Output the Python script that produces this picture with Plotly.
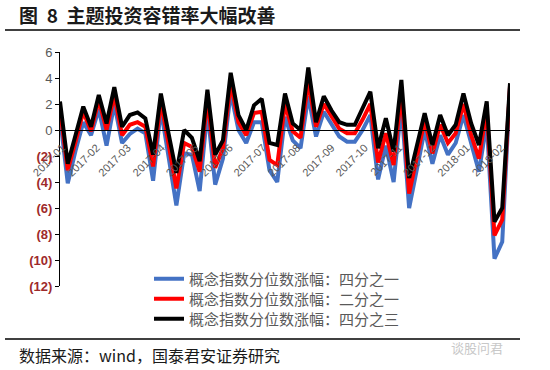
import plotly.graph_objects as go
import pandas as pd

# weekly observation dates (first week of Jan 2017 to early Feb 2018)
dates = pd.date_range("2016-12-30", periods=59, freq="7D").strftime("%Y-%m-%d").tolist()

# 概念指数分位数涨幅 (%)
q1 = [1.0, -4.1, -1.6, 0.6, -0.4, 1.6, -1.2, 2.0, -1.0, -0.3,
      0.1, -0.25, -3.9, 1.6, -2.1, -5.8, -1.8, -1.9, -4.7, 1.5,
      -4.2, -2.2, 2.9, 0.0, -1.0, 0.6, 0.6, -3.1, -4.0, 1.0,
      -0.8, -1.4, 2.6, -0.5, 1.4, 0.5, -0.5, -0.9, -0.9, 0.0,
      1.15, -3.8, -1.2, -4.0, 1.9, -6.0, -3.0, 0.0, -2.6, -0.4,
      -1.9, -1.0, 1.15, -1.15, -3.2, 0.6, -9.9, -8.6, 3.3]
q2 = [1.6, -3.1, -0.9, 1.4, -0.1, 2.3, 0.0, 2.7, -0.4, 0.4,
      0.6, 0.25, -2.8, 2.2, -1.1, -4.5, -1.0, -1.3, -3.2, 2.4,
      -2.9, -1.4, 3.6, 0.6, -0.4, 1.3, 1.4, -2.3, -2.7, 2.0,
      -0.1, -0.6, 3.7, 0.25, 2.0, 1.0, 0.1, -0.25, -0.25, 0.8,
      2.0, -2.5, -0.25, -2.7, 2.9, -4.9, -1.9, 0.75, -1.8, 0.4,
      -1.0, -0.25, 2.0, -0.4, -2.2, 1.6, -8.1, -6.9, 3.4]
q3 = [2.2, -2.6, -0.4, 1.8, 0.25, 2.7, 0.5, 3.3, 0.25, 1.15,
      1.35, 0.9, -1.9, 2.8, -0.3, -3.3, 0.0, -0.6, -2.4, 3.1,
      -1.9, -0.8, 4.4, 1.15, 0.0, 1.9, 2.4, -1.0, -1.15, 2.8,
      0.5, 0.0, 4.8, 0.6, 2.6, 1.5, 0.6, 0.4, 0.4, 1.65,
      2.95, -1.4, 0.9, -1.65, 3.85, -3.7, -1.15, 1.3, -1.15, 1.15,
      -0.4, 0.4, 2.8, 0.5, -1.15, 2.2, -7.05, -6.0, 3.6]

series_names = ["概念指数分位数涨幅：四分之一",
                "概念指数分位数涨幅：二分之一",
                "概念指数分位数涨幅：四分之三"]
series_colors = ["#4472C4", "#FF0000", "#000000"]

month_ticks = ["2017-01-01", "2017-02-01", "2017-03-01", "2017-04-01", "2017-05-01",
               "2017-06-01", "2017-07-01", "2017-08-01", "2017-09-01", "2017-10-01",
               "2017-11-01", "2017-12-01", "2018-01-01", "2018-02-01"]
month_labels = [t[:7] for t in month_ticks]

y_ticks = [6, 4, 2, 0, -2, -4, -6, -8, -10, -12]
def ylab(v):
    if v < 0:
        return '<span style="color:#9E2A2B"><b>(%d)</b></span>' % (-v)
    return '<span style="color:#595959">%d</span>' % v
y_labels = [ylab(v) for v in y_ticks]

W, H = 550, 370
L, R, T, B = 60, 40, 52, 84
pw, ph = W - L - R, H - T - B
def px(x):
    return (x - L) / pw
def py(y):
    return (H - B - y) / ph

legend_ids = ["legend", "legend2", "legend3"]
legend_rows = [279, 299, 319]

fig = go.Figure()
for vals, name, col, lg in zip([q1, q2, q3], series_names, series_colors, legend_ids):
    fig.add_trace(go.Scatter(x=dates, y=vals, mode="lines", name=name, legend=lg,
                             line=dict(color=col, width=4)))

legend_font = dict(family="Noto Sans CJK SC", size=15, color="#595959")
layout_legends = {}
for lg, row in zip(legend_ids, legend_rows):
    layout_legends[lg] = dict(x=px(149), y=py(row), xanchor="left", yanchor="middle",
                              bgcolor="rgba(0,0,0,0)", font=legend_font)

fig.update_layout(
    width=W, height=H,
    margin=dict(l=L, r=R, t=T, b=B),
    paper_bgcolor="white", plot_bgcolor="white",
    showlegend=True,
    xaxis=dict(type="date", range=["2016-12-30", "2018-02-09"],
               anchor="free", position=12 / 18,
               showline=True, linecolor="#000000", linewidth=1,
               showgrid=False, zeroline=False, ticks="",
               tickvals=month_ticks, ticktext=month_labels, tickangle=-45,
               ticklabelstandoff=6,
               tickfont=dict(family="Liberation Sans", size=11, color="#595959")),
    yaxis=dict(range=[-12, 6], tickvals=y_ticks, ticktext=y_labels,
               showline=True, linecolor="#000000", linewidth=1,
               ticks="outside", ticklen=4, tickcolor="#000000",
               showgrid=False, zeroline=False,
               tickfont=dict(family="Liberation Sans", size=13, color="#595959")),
    **layout_legends,
)

NB = "\u00a0"
fig.add_annotation(xref="paper", yref="paper", x=px(17), y=py(15),
                   xanchor="left", yanchor="middle", showarrow=False,
                   text="<b>图" + NB * 2 + "8" + NB * 2 + "主题投资容错率大幅改善</b>",
                   font=dict(family="Noto Sans CJK SC", size=19, color="#1a1a1a"))
fig.add_annotation(xref="paper", yref="paper", x=px(17), y=py(355),
                   xanchor="left", yanchor="middle", showarrow=False,
                   text="数据来源：wind，国泰君安证券研究",
                   font=dict(family="Noto Sans CJK SC", size=16, color="#1a1a1a"))
fig.add_annotation(xref="paper", yref="paper", x=px(505), y=py(347),
                   xanchor="right", yanchor="middle", showarrow=False,
                   text="谈股问君",
                   font=dict(family="Noto Sans CJK SC", size=13, color="#c8c8c8"))

for yy in (30, 339):
    fig.add_shape(type="line", xref="paper", yref="paper",
                  x0=px(5), x1=px(520), y0=py(yy), y1=py(yy),
                  line=dict(color="#000000", width=1.5))

fig.write_html("out.html", config={"displayModeBar": False},
               post_script="document.body.style.margin='0';")
